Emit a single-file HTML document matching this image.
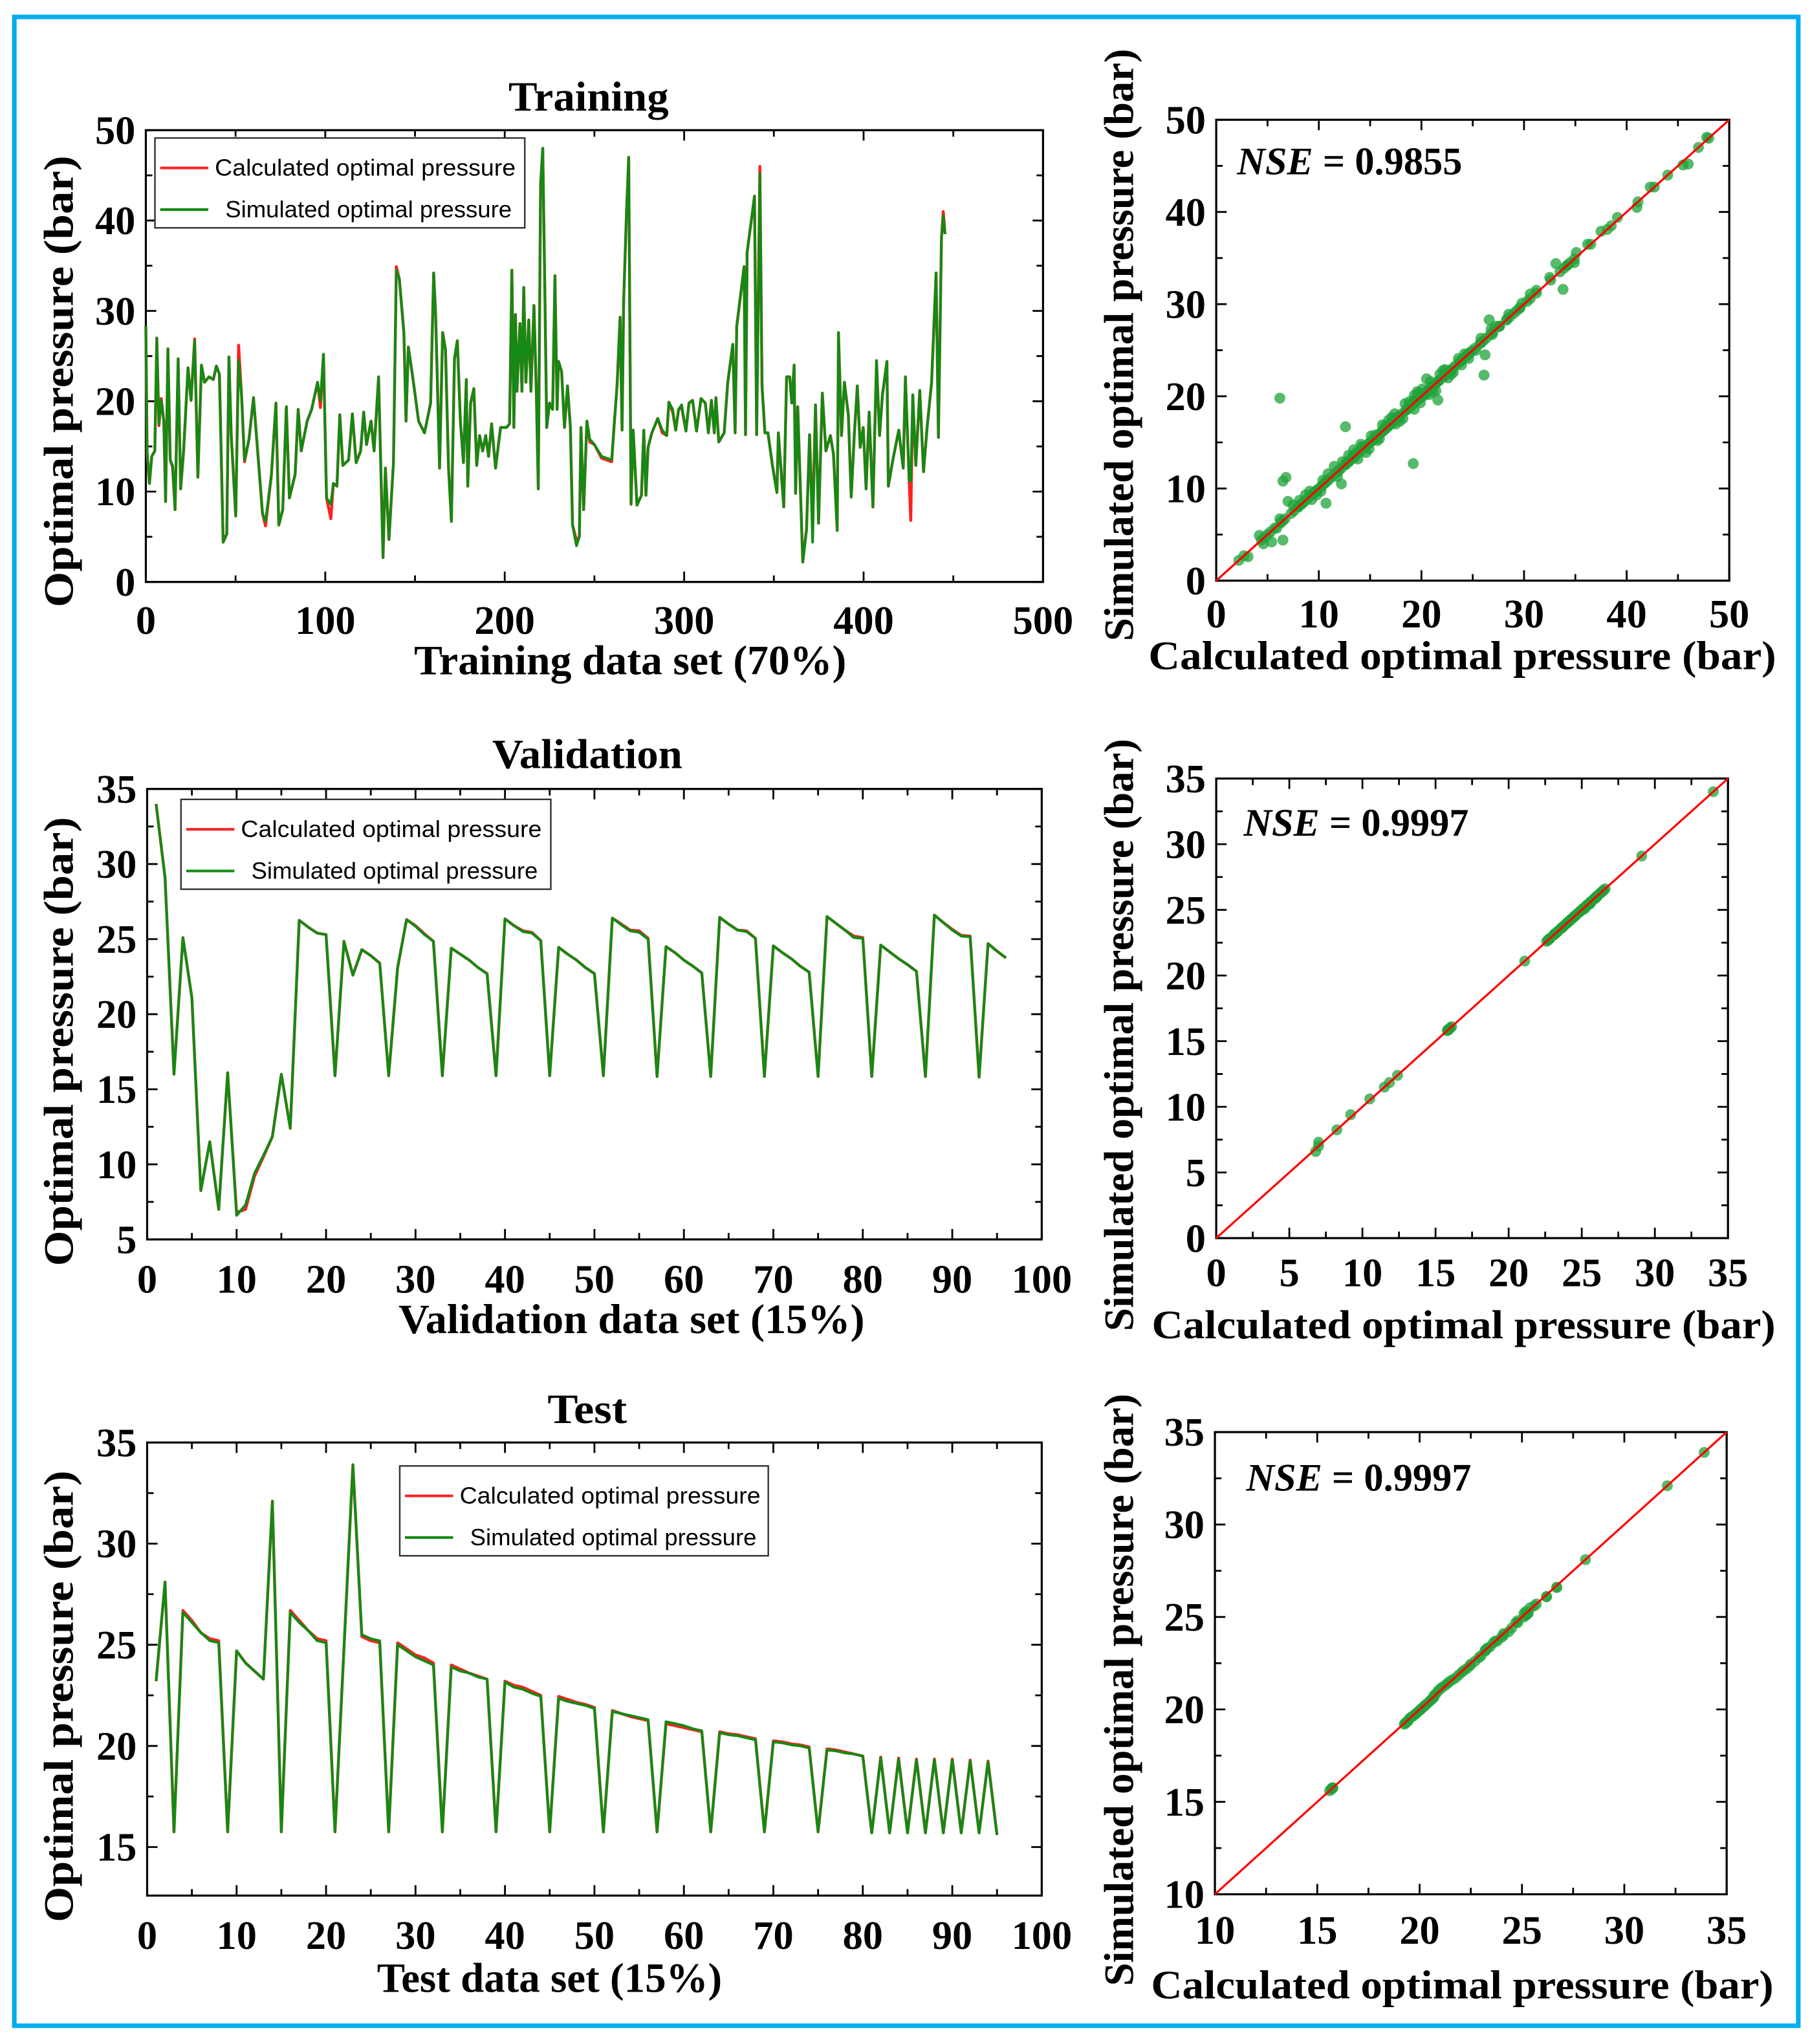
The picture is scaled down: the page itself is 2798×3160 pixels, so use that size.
<!DOCTYPE html>
<html><head><meta charset="utf-8"><title>Optimal pressure charts</title>
<style>html,body{margin:0;padding:0;background:#fff}svg{display:block}</style></head>
<body>
<svg id="fig" xmlns="http://www.w3.org/2000/svg" width="2798" height="3160" viewBox="0 0 1390 1570" preserveAspectRatio="none">
<rect x="0" y="0" width="1390" height="1570" fill="#fff"/>
<rect x="11" y="13" width="1370" height="1543" fill="none" stroke="#00aeef" stroke-width="3.5"/>
</svg>
<script>
const trainX=[0,0.7,2,3.3,5,6.1,7.3,8.6,10,11,12.3,13.6,14.9,16.3,18,19.4,21,23.5,25.2,27.2,29,31,32.7,35.2,37.6,39.3,41,43.1,45.1,46.3,47.6,50.1,51.7,53.4,55,57.5,60,65,66.7,70,72.5,74.1,76.3,78.3,80,83.2,84.9,86.6,89.9,92.4,95.7,97.3,99,100.7,103.1,104.5,106.5,108.1,109.8,113,115.1,117.2,119.7,121.4,123,125.5,127.2,129.7,132.2,133.5,135.5,138,139.6,141.3,143.8,145,146.3,148,149.6,152,155.3,158.7,160.4,161.5,163.7,165.4,167,168.7,170.3,172,173.6,175.3,177,178.6,179.4,181,182.8,184.4,186,187.7,189.4,191,192.7,194.9,197.7,201,202.7,204,205.1,206,206.8,208.5,209.6,210.6,211.8,213.4,214.6,216.3,217.6,218.7,220,221.2,222.5,223.4,225,226.7,228,229.2,230,231.7,233.3,235,236.6,237.8,240,241.6,242.5,244,245.8,247.4,250,254,259.6,260.9,262.6,264.3,265.4,266.3,267.9,269.1,270.4,271.6,273.7,276.2,277.5,278.7,279.9,282,285.3,287.8,290.3,291.5,293.6,295.3,296.9,298.6,301,302.7,304.7,306.9,309.4,311.8,313.5,315.2,316.8,317.7,319.3,322.3,324.3,327.1,328.4,329.3,333.4,334.2,335.1,339.2,340.4,342.2,343.4,345,346.7,349.2,351.7,352.5,355.5,357.1,358.8,360,361.3,362.1,363.3,366.1,368.2,369.9,371.6,373.2,374.9,377,379,381.5,383.2,385.3,386,387.7,389.3,391.5,393.1,394.8,396.5,398.1,399.8,401.4,403.1,405.2,407.2,408.9,410.5,413,413.8,416.3,419.6,422.1,423.3,425.4,426.3,427.4,429.1,431.3,433.4,435.4,437.9,440.4,441.7,443.4,444.4,445.4];
const trainCalc=[28.3,14.2,10.9,13.9,14.5,27,17.3,20.3,17.8,8.9,25.8,13.5,12.7,8,24.7,10.3,14.3,23.7,20.1,26.9,11.6,24,22.1,22.7,22.4,23.9,23,4.4,5.3,24.9,16.2,7.3,26.2,20.4,13.3,15.8,20.4,7.6,6.2,11.9,19.8,6.3,8,19.4,9.3,11.9,19.1,14.5,17.8,19.1,22.1,19.3,25.2,9.3,7,10.9,10.6,18.5,12.9,13.5,18.6,13.2,14.5,18.8,15.2,17.8,14.5,22.7,2.7,12.6,4.7,13.2,34.9,33.5,27.6,17.8,26,23.7,21.4,17.8,16.5,19.8,34.2,29.6,12.6,27.6,25.7,12.6,6.7,24.7,26.7,17.8,13.2,22.4,10.6,19.8,21.4,12.9,16.2,14.5,16.2,13.9,17.5,12.6,17.1,17.1,17.5,34.5,17.1,29.6,21.1,28.6,21.1,32.6,22.1,29,21.1,30.6,21.1,10.3,44,48,30.3,17.1,19.8,19.1,33.9,19.1,24.4,23.3,17.1,21.7,17.1,6.3,4.6,5,17.1,8,17.8,15.5,15.2,13.7,13.3,17.1,21.7,29.3,16.8,31.2,41.1,47,8.6,16.8,8.5,9.6,16.8,9.6,14.9,16.5,18.1,16.5,16.2,19.9,18.8,16.8,19.1,19.3,16.7,19.8,20.1,16.7,20.3,19.8,16.5,20.1,16.5,20.4,15.5,16.5,22.1,26.3,16.5,28.3,34.9,16.3,36.5,42.7,16.3,46,21.7,16.5,16.5,12.9,9.9,16.5,8.3,22.7,22.7,19.8,24,9.8,19.4,2.2,5.9,16.3,6.5,19.6,6.5,20.9,14.5,16.2,14.2,5.7,27.6,16.2,22.1,18.5,9.4,16.2,21.7,14.9,17.1,10.3,18.8,8.3,24.5,16.2,20.7,24.4,10.6,13.5,16.8,12.6,22.7,11.2,6.8,20.7,12.9,21.2,12.2,17.1,22.1,34.2,16,38.1,41,38.5];
const trainSim=[28.3,14.5,10.9,13.9,14.5,27,17.5,20.1,17.8,8.9,25.8,13.5,12.9,8,24.7,10.3,14.5,23.7,20.1,26.7,11.6,24,22.1,22.7,22.4,23.9,23,4.4,5.3,24.9,16.2,7.3,24.5,20.4,13.5,15.8,20.4,7.6,6.7,11.9,19.8,6.3,8,19.4,9.3,11.9,19.1,14.5,17.8,19.1,22.1,20.1,25.2,9.3,8.6,10.9,10.6,18.5,12.9,13.5,18.6,13.2,14.5,18.8,15.2,17.8,14.5,22.7,2.7,12.6,4.7,13.2,34.5,33.5,27.6,17.8,26,23.7,21.4,17.8,16.5,19.8,34.2,29.6,12.6,27.6,25.7,12.6,6.7,24.7,26.7,17.8,13.2,22.4,10.6,19.8,21.4,12.9,16.2,14.5,16.2,13.9,17.5,12.6,17.1,17.1,17.5,34.5,17.1,29.6,21.1,28.6,21.1,32.6,22.1,29,21.1,30.6,21.1,10.3,44,48,30.3,17.1,19.8,19.1,33.9,19.1,24.4,23.3,17.1,21.7,17.1,6.3,4,5,17.1,8,17.8,15.8,15.2,13.9,13.5,17.1,21.7,29.3,16.8,31.2,41.1,47,8.6,16.8,8.5,9.6,16.8,9.6,14.9,16.5,18.1,16.8,16.2,19.9,19.1,16.8,19.1,19.6,16.7,19.8,20.1,16.7,20.3,19.8,16.5,20.1,16.5,20.4,15.5,16.5,22.1,26.3,16.5,28.3,34.9,16.3,36.5,42.7,16.3,45.2,21.7,16.5,16.5,12.9,9.9,16.5,8.3,22.7,22.7,19.8,24,9.8,19.4,2.2,5.7,16.3,4.4,19.6,6.5,20.9,14.5,16.2,14.2,5.7,27.6,16.2,22.1,18.5,9.4,16.2,21.7,14.9,17.1,10.3,18.8,8.3,24.5,16.2,20.7,24.4,10.6,13.5,16.8,12.6,22.7,11.2,11.2,20.7,12.9,21.2,12.2,17.1,22.1,34.2,16,38.1,40.5,38.5];
const extraCalc=[6.2,12.6,19.2,26.1,33.8,6.5,10.7,5.4,12.2,21.6,26.6,33.1,45.5,47.8,39.1,36.2,10.4,11.5,13.4,14.6,16.2,17.5,18.4,19.6,20.5,21.4,22.3,23.1,24.2,25.3,27.2,28.5,29.8,31.2,37.5,42.3,8.7,9.3,14.1,15.7,17.1,19.9,20.9,22.9,8.1,9.8,10.9,11.8,12.9,13.8,15.1,15.9,16.8,17.9,18.8,19.3,20.1,20.8,21.8,22.6,23.6,24.6,25.8,9.1,10.2,12.3,14.9,17.4,18.2,19.7,21.1,22.1,23.9,26.8,30.6,32.5,35.1,4.2,3.1,7.5];
const extraSim=[19.8,16.7,12.7,22.3,31.6,10.8,8.4,4.2,10.5,19.6,28.3,34.4,45.1,48.1,39.4,36.5,10.9,12.4,14.2,13.9,16.9,17.0,19.2,20.5,21.9,20.6,22.9,22.6,24.6,25.0,27.6,28.9,30.1,31.5,37.9,42.7,9.3,8.8,14.8,15.2,17.7,19.3,21.6,22.4,8.7,9.3,11.6,11.3,13.6,13.2,15.7,15.4,17.4,17.3,19.4,18.6,20.8,20.2,22.4,22.0,24.1,24.1,26.3,9.7,9.7,12.9,14.3,18.1,17.6,20.3,20.5,22.8,23.4,27.3,31.1,32.9,35.6,4.9,2.6,8.2];
const valCalc=[34.0,29.1,16.0,25.1,21.1,8.25,11.5,7.0,16.1,6.8,7.0,9.2,10.5,11.85,16.0,12.4,26.25,25.8,25.4,25.3,15.9,24.85,22.6,24.3,23.9,23.4,15.9,23.1,26.3,25.9,25.35,24.85,15.9,24.4,24.0,23.6,23.1,22.7,15.9,26.35,25.9,25.55,25.45,24.9,15.9,24.45,24.0,23.6,23.1,22.7,15.9,26.4,26.0,25.6,25.55,25.05,15.85,24.5,24.1,23.6,23.2,22.75,15.85,26.45,26.0,25.6,25.55,25.05,15.85,24.55,24.1,23.7,23.2,22.8,15.85,26.5,26.05,25.6,25.2,25.1,15.85,24.6,24.15,23.7,23.3,22.85,15.85,26.6,26.1,25.65,25.25,25.2,15.8,24.7,24.2,23.75];
const valSim=[34.0,29.1,16.0,25.1,21.1,8.25,11.5,7.0,16.1,6.6,7.3,9.4,10.6,11.85,16.0,12.4,26.25,25.8,25.4,25.3,15.9,24.85,22.6,24.3,23.9,23.4,15.9,23.1,26.3,25.85,25.3,24.85,15.9,24.4,24.0,23.6,23.1,22.7,15.9,26.35,25.9,25.5,25.4,24.9,15.9,24.45,24.0,23.6,23.1,22.7,15.9,26.4,25.95,25.55,25.45,25.0,15.85,24.5,24.1,23.6,23.2,22.75,15.85,26.45,26.0,25.6,25.5,25.05,15.85,24.55,24.1,23.7,23.2,22.8,15.85,26.5,26.05,25.6,25.1,25.05,15.85,24.6,24.15,23.7,23.3,22.85,15.85,26.6,26.1,25.6,25.2,25.15,15.8,24.7,24.2,23.75];
const testCalc=[23.2,28.1,15.75,26.7,26.2,25.6,25.3,25.2,15.75,24.7,24.1,23.7,23.3,32.1,15.75,26.7,26.2,25.7,25.3,25.2,15.75,24.8,33.9,25.4,25.2,25.1,15.75,25.1,24.8,24.5,24.35,24.1,15.75,24.0,23.8,23.6,23.45,23.3,15.75,23.2,23.0,22.9,22.7,22.5,15.75,22.45,22.3,22.15,22.05,21.9,15.75,21.75,21.6,21.45,21.35,21.25,15.75,21.1,21.0,20.9,20.8,20.7,15.75,20.7,20.6,20.55,20.45,20.35,15.75,20.25,20.2,20.1,20.05,19.95,15.75,19.85,19.8,19.7,19.6,19.5,15.7,19.45,15.7,19.4,15.7,19.35,15.7,19.35,15.7,19.35,15.7,19.3,15.7,19.25,15.6];
const testSim=[23.2,28.1,15.75,26.6,26.1,25.6,25.2,25.1,15.75,24.7,24.1,23.7,23.3,32.1,15.75,26.6,26.1,25.7,25.2,25.1,15.75,24.8,33.9,25.5,25.3,25.2,15.75,25.0,24.7,24.4,24.2,24.0,15.75,23.9,23.7,23.6,23.4,23.3,15.75,23.15,22.9,22.8,22.6,22.45,15.75,22.35,22.2,22.1,22.0,21.85,15.75,21.7,21.6,21.5,21.4,21.3,15.75,21.2,21.1,21.0,20.85,20.75,15.75,20.65,20.55,20.5,20.4,20.3,15.75,20.2,20.15,20.05,20.0,19.9,15.75,19.8,19.75,19.65,19.6,19.5,15.7,19.4,15.7,19.35,15.7,19.3,15.7,19.3,15.7,19.3,15.7,19.25,15.7,19.2,15.6];
const trainXTicks=[0,100,200,300,400,500];
const trainYTicks=[0,10,20,30,40,50];
const pctXTicks=[0,10,20,30,40,50,60,70,80,90,100];
const valYTicks=[5,10,15,20,25,30,35];
const testYTicks=[15,20,25,30,35];
const sc1Ticks=[0,10,20,30,40,50];
const sc2Ticks=[0,5,10,15,20,25,30,35];
const sc3Ticks=[10,15,20,25,30,35];

const NS='http://www.w3.org/2000/svg';
const svg=document.getElementById('fig');
function mk(tag,attrs,parent){const e=document.createElementNS(NS,tag);for(const k in attrs)e.setAttribute(k,attrs[k]);(parent||svg).appendChild(e);return e;}
const SERIF='"Liberation Serif", serif', SANS='"Liberation Sans", sans-serif';
function txt(s,x,y,size,opts,parent){const o=Object.assign({x:x,y:y,'font-family':SERIF,'font-weight':'bold','font-size':size,fill:'#000'},opts||{});const t=mk('text',o,parent);t.textContent=s;return t;}

function axes(p,name){
  const g=mk('g',{});
  
  
  const sx=v=>p.x0+(v-p.xmin)/(p.xmax-p.xmin)*(p.x1-p.x0);
  const sy=v=>p.y1-(v-p.ymin)/(p.ymax-p.ymin)*(p.y1-p.y0);
  const frame=mk('rect',{x:p.x0,y:p.y0,width:p.x1-p.x0,height:p.y1-p.y0,fill:'none',stroke:'#000','stroke-width':1.6},g);
  
  
  const xt=p.xticks, yt=p.yticks;
  const xs=(xt[1]-xt[0])/2, ys=(yt[1]-yt[0])/2;
  for(let v=p.xmin;v<=p.xmax+1e-6;v+=xs){const X=sx(v);const major=xt.some(t=>Math.abs(t-v)<1e-6);const L=major?8:5;
    mk('line',{x1:X,y1:p.y1,x2:X,y2:p.y1-L,stroke:'#000','stroke-width':1.4},g);mk('line',{x1:X,y1:p.y0,x2:X,y2:p.y0+L,stroke:'#000','stroke-width':1.4},g);}
  for(let v=yt[0]-ys*Math.floor((yt[0]-p.ymin)/ys+1e-6);v<=p.ymax+1e-6;v+=ys){if(v<p.ymin-1e-6)continue;const Y=sy(v);const major=yt.some(t=>Math.abs(t-v)<1e-6);const L=major?8:5;
    mk('line',{x1:p.x0,y1:Y,x2:p.x0+L,y2:Y,stroke:'#000','stroke-width':1.4},g);mk('line',{x1:p.x1,y1:Y,x2:p.x1-L,y2:Y,stroke:'#000','stroke-width':1.4},g);}
  xt.forEach(v=>{const t=txt(String(v),sx(v),p.xlabY,p.fs,{'text-anchor':'middle'},g);
    
    });
  yt.forEach(v=>{const t=txt(String(v),p.x0-8,sy(v)+p.fs*0.34,p.fs,{'text-anchor':'end'},g);
    
    });
  return {sx,sy,g};
}
function path(xs,ys,sx,sy,color,w,parent){let d='';for(let i=0;i<xs.length;i++)d+=(i?'L':'M')+sx(xs[i]).toFixed(2)+' '+sy(ys[i]).toFixed(2);return mk('path',{d:d,fill:'none',stroke:color,'stroke-width':w,'stroke-linejoin':'round'},parent);}
function legend(x,y,w,h,parent){
  const g=mk('g',{},parent);
  
  
  mk('rect',{x:x,y:y,width:w,height:h,fill:'#fff',stroke:'#333','stroke-width':1.2},g);
  mk('line',{x1:x+4,y1:y+23,x2:x+41,y2:y+23,stroke:'#ff2020','stroke-width':2},g);
  const t1=txt('Calculated optimal pressure',x+46,y+29,18,{'font-family':SANS,'font-weight':'normal',textLength:231,lengthAdjust:'spacingAndGlyphs'},g);
  
  
  mk('line',{x1:x+4,y1:y+55,x2:x+41,y2:y+55,stroke:'#138a13','stroke-width':2},g);
  const t2=txt('Simulated optimal pressure',x+54,y+61,18,{'font-family':SANS,'font-weight':'normal',textLength:220,lengthAdjust:'spacingAndGlyphs'},g);
  
  
}
function label(s,x,y,len,size,rot,name){const o={'text-anchor':'middle',textLength:len,lengthAdjust:'spacingAndGlyphs'};if(rot)o.transform='rotate(-90 '+x+' '+y+')';const t=txt(s,x,y,size,o);
  
  return t;}
function lineChart(cfg){
  const a=axes(cfg.p,cfg.name);
  const idx=cfg.xs;
  const r=path(idx,cfg.calc,a.sx,a.sy,'#ff2020',2.2,a.g);
  
  
  const gr=path(idx,cfg.sim,a.sx,a.sy,'#138a13',2.0,a.g);
  
  
  legend(cfg.leg[0],cfg.leg[1],cfg.leg[2],69,a.g);
}
function scatter(cfg){
  const a=axes(cfg.p,cfg.name);
  const g=mk('g',{},a.g);
  
  
  cfg.sets.forEach(s=>{for(let i=0;i<s[0].length;i++){
    const c=mk('circle',{cx:a.sx(s[0][i]),cy:a.sy(s[1][i]),r:4.2,fill:'#1fa33a','fill-opacity':0.75},g);
    
    }});
  const d=mk('line',{x1:a.sx(cfg.p.xmin),y1:a.sy(cfg.p.ymin),x2:a.sx(cfg.p.xmax),y2:a.sy(cfg.p.ymax),stroke:'#ff0000','stroke-width':1.6},a.g);
  
  
  const t=mk('text',{x:cfg.nse[0],y:cfg.nse[1],'font-family':SERIF,'font-weight':'bold','font-size':30,fill:'#000'},a.g);
  t.innerHTML='<tspan font-style="italic">NSE</tspan> = '+cfg.nse[2];
  
  
}
const idx=n=>Array.from({length:n},(_,i)=>i+1);

lineChart({name:'training-chart',xs:trainX,calc:trainCalc,sim:trainSim,leg:[119,106,284],
  p:{x0:112,x1:801,y0:100,y1:447,xmin:0,xmax:500,ymin:0,ymax:50,xticks:trainXTicks,yticks:trainYTicks,xlabY:487,fs:31}});
label('Training',452,85,123,32,false,'training-title');
label('Training data set (70%)',484,518,332,32,false,'training-x-axis-title');
label('Optimal pressure (bar)',56,293,347,32,true,'training-y-axis-title');
scatter({name:'training-scatter',sets:[[trainCalc,trainSim],[extraCalc,extraSim]],nse:[950,134,'0.9855'],
  p:{x0:934,x1:1328,y0:92,y1:446,xmin:0,xmax:50,ymin:0,ymax:50,xticks:sc1Ticks,yticks:sc1Ticks,xlabY:482,fs:31}});
label('Simulated optimal pressure (bar)',870,265,455,32,true,'training-scatter-y-axis-title');
label('Calculated optimal pressure (bar)',1123,514,482,31,false,'training-scatter-x-axis-title');

lineChart({name:'validation-chart',xs:idx(valSim.length),calc:valCalc,sim:valSim,leg:[139,614,284],
  p:{x0:113,x1:800,y0:606,y1:952,xmin:0,xmax:100,ymin:5,ymax:35,xticks:pctXTicks,yticks:valYTicks,xlabY:993,fs:31}});
label('Validation',451,590,146,32,false,'validation-title');
label('Validation data set (15%)',485,1024,358,32,false,'validation-x-axis-title');
label('Optimal pressure (bar)',56,800,345,32,true,'validation-y-axis-title');
scatter({name:'validation-scatter',sets:[[valCalc,valSim]],nse:[955,642,'0.9997'],
  p:{x0:934,x1:1327,y0:598,y1:951,xmin:0,xmax:35,ymin:0,ymax:35,xticks:sc2Ticks,yticks:sc2Ticks,xlabY:988,fs:31}});
label('Simulated optimal pressure (bar)',870,795,455,32,true,'validation-scatter-y-axis-title');
label('Calculated optimal pressure (bar)',1124,1028,479,31,false,'validation-scatter-x-axis-title');

lineChart({name:'test-chart',xs:idx(testSim.length),calc:testCalc,sim:testSim,leg:[307,1126,283],
  p:{x0:113,x1:800,y0:1108,y1:1456,xmin:0,xmax:100,ymin:12.6,ymax:35,xticks:pctXTicks,yticks:testYTicks,xlabY:1497,fs:31}});
label('Test',451,1093,61,32,false,'test-title');
label('Test data set (15%)',422,1530,265,32,false,'test-x-axis-title');
label('Optimal pressure (bar)',56,1303,347,32,true,'test-y-axis-title');
scatter({name:'test-scatter',sets:[[testCalc,testSim]],nse:[957,1145,'0.9997'],
  p:{x0:933,x1:1326,y0:1100,y1:1455,xmin:10,xmax:35,ymin:10,ymax:35,xticks:sc3Ticks,yticks:sc3Ticks,xlabY:1493,fs:31}});
label('Simulated optimal pressure (bar)',870,1298,455,32,true,'test-scatter-y-axis-title');
label('Calculated optimal pressure (bar)',1123,1535,478,31,false,'test-scatter-x-axis-title');
</script>
</body></html>
